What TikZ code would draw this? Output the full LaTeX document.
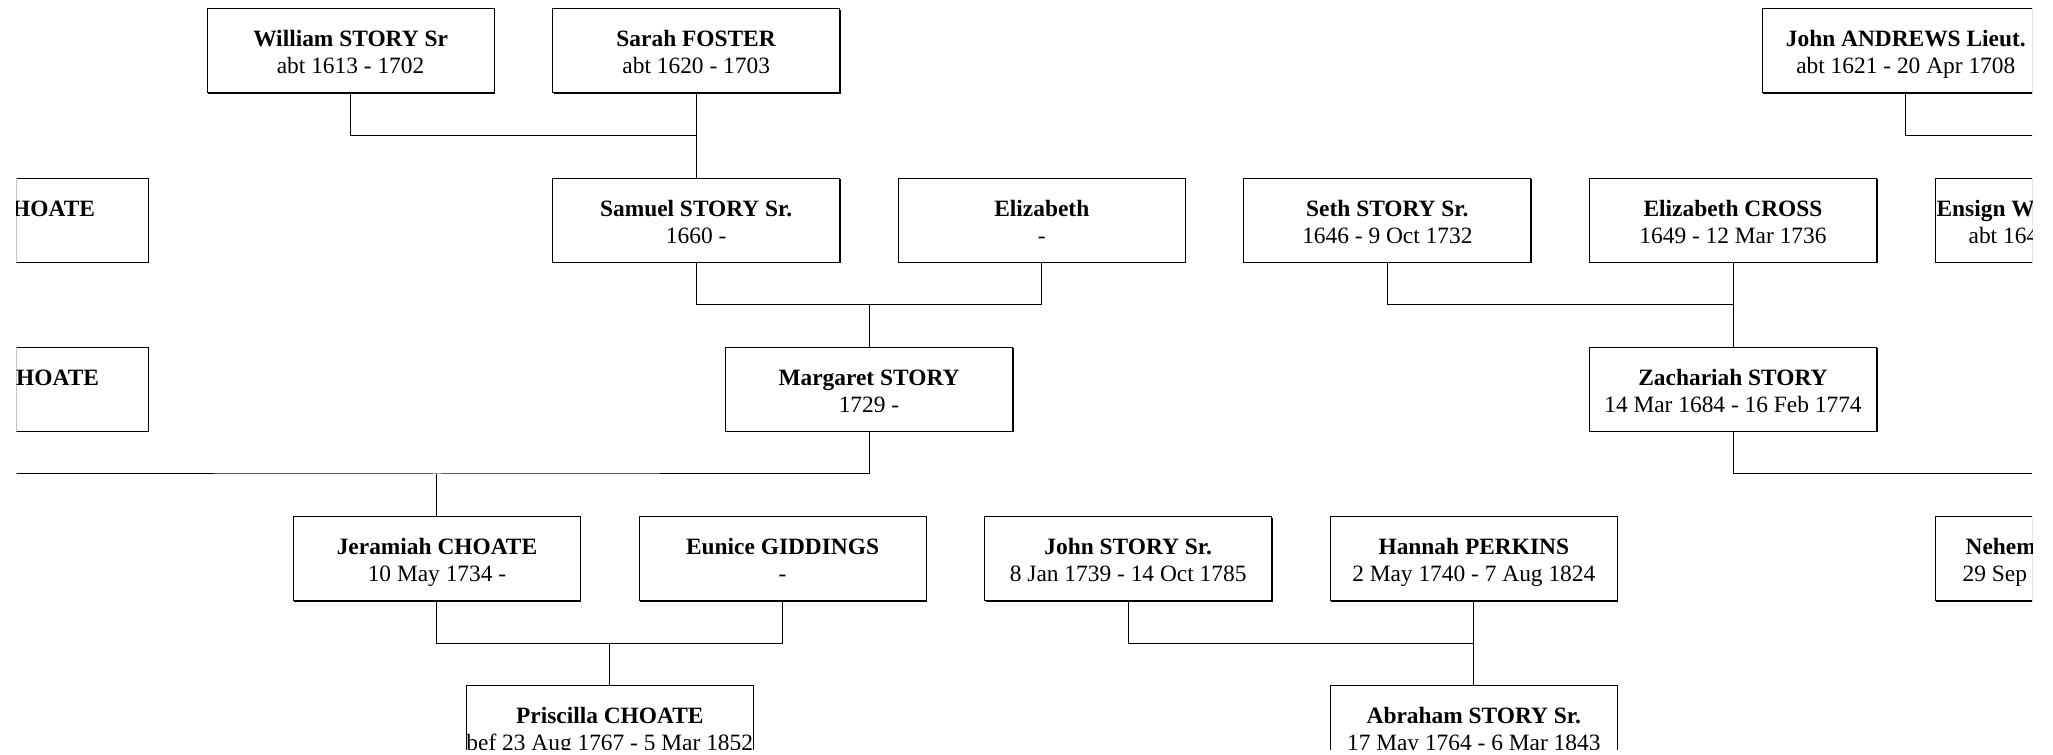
\documentclass[tikz,border=0pt]{standalone}
\usepackage{fontspec}
\setmainfont{Liberation Serif}
\usepackage{tikz}
\usetikzlibrary{shadows}
\newcommand{\pers}[2]{\begin{tabular}[t]{@{}c@{}}\textbf{#1}\\\mbox{}#2\end{tabular}}

\begin{document}
\begin{tikzpicture}[x=86.4pt,y=-84.6pt]
\tikzstyle{person}=[rectangle,draw=black,fill=white,line width=0.5pt,minimum width=143.5pt,minimum height=42pt,inner sep=0pt,text height=13.5pt,font=\fontsize{11.7pt}{13.5pt}\selectfont,drop shadow={shadow xshift=0.5pt,shadow yshift=-0.5pt,opacity=1,fill=black}]
\tikzstyle{line}=[line width=0.5pt]
\useasboundingbox (-0.0289,-0.3014) rectangle (11.8519,4.1608);
\clip (0.0666,-0.3014) rectangle (11.7303,4.1312);
\node[person] (1) at (2,0) {\pers{William STORY Sr}{abt 1613 - 1702}};
\node[person] (2) at (4,0) {\pers{Sarah FOSTER}{abt 1620 - 1703}};
\node[person] (3) at (11,0) {\pers{John ANDREWS Lieut.}{abt 1621 - 20 Apr 1708}};
\node[person] (4) at (0,1) {\pers{\rlap{\hspace*{3.6pt}HOATE}}{}};
\node[person] (5) at (4,1) {\pers{Samuel STORY Sr.}{1660 -}};
\node[person] (6) at (6,1) {\pers{Elizabeth}{-}};
\node[person] (7) at (8,1) {\pers{Seth STORY Sr.}{1646 - 9 Oct 1732}};
\node[person] (8) at (10,1) {\pers{Elizabeth CROSS}{1649 - 12 Mar 1736}};
\node[person] (9) at (12,1) {\pers{\rlap{\hspace*{-71pt}Ensign W}}{\rlap{\hspace*{-55pt}abt 164}}};
\node[person] (10) at (0,2) {\pers{\rlap{\hspace*{5.6pt}HOATE}}{}};
\node[person] (11) at (5,2) {\pers{Margaret STORY}{1729 -}};
\node[person] (12) at (10,2) {\pers{Zachariah STORY}{14 Mar 1684 - 16 Feb 1774}};
\node[person] (13) at (2.5,3) {\pers{Jeramiah CHOATE}{10 May 1734 -}};
\node[person] (14) at (4.5,3) {\pers{Eunice GIDDINGS}{-}};
\node[person] (15) at (6.5,3) {\pers{John STORY Sr.}{8 Jan 1739 - 14 Oct 1785}};
\node[person] (16) at (8.5,3) {\pers{Hannah PERKINS}{2 May 1740 - 7 Aug 1824}};
\node[person] (17) at (12,3) {\pers{\rlap{\hspace*{-56.5pt}Nehem}}{\rlap{\hspace*{-58pt}29 Sep}}};
\node[person] (18) at (3.5,4) {\pers{Priscilla CHOATE}{bef 23 Aug 1767 - 5 Mar 1852}};
\node[person] (19) at (8.5,4) {\pers{Abraham STORY Sr.}{17 May 1764 - 6 Mar 1843}};
\coordinate (a) at (4,0.5);
\coordinate (b) at (12,0.5);
\coordinate (c) at (5,1.5);
\coordinate (d) at (10,1.5);
\coordinate (e) at (2.5,2.5);
\coordinate (f) at (12,2.5);
\coordinate (g) at (3.5,3.5);
\coordinate (h) at (8.5,3.5);
\draw[line] (1) |- (a);
\draw[line] (2) -- (5);
\draw[line] (3) |- (b);
\draw[line] (5) |- (c) -| (6);
\draw[line] (c) -- (11);
\draw[line] (7) |- (d);
\draw[line] (8) -- (12);
\draw[line] (10) |- (e) -| (11);
\draw[line] (e) -- (13);
\draw[line] (12) |- (f);
\draw[line] (13) |- (g) -| (14);
\draw[line] (g) -- (18);
\draw[line] (15) |- (h);
\draw[line] (16) -- (19);
\end{tikzpicture}
\end{document}
